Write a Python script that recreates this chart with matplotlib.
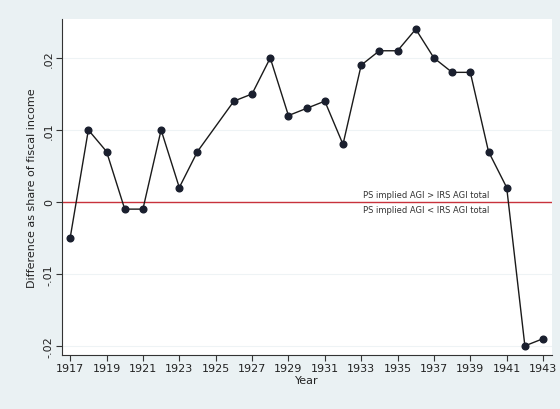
import matplotlib
matplotlib.use("Agg")
import matplotlib.pyplot as plt
import numpy as np

years = [1917, 1918, 1919, 1920, 1921, 1922, 1923, 1924, 1926, 1927, 1928, 1929,
         1930, 1931, 1932, 1933, 1934, 1935, 1936, 1937, 1938, 1939, 1940, 1941,
         1942, 1943]
diff = [-0.005, 0.010, 0.007, -0.001, -0.001, 0.010, 0.002, 0.007, 0.014, 0.015,
        0.020, 0.012, 0.013, 0.014, 0.008, 0.019, 0.021, 0.021, 0.024, 0.020,
        0.018, 0.018, 0.007, 0.002, -0.020, -0.019]
xticks = list(range(1917, 1944, 2))
yticks = [-0.02, -0.01, 0, 0.01, 0.02]
ytick_labels = ["-.02", "-.01", "0", ".01", ".02"]
note_above = "PS implied AGI > IRS AGI total"
note_below = "PS implied AGI < IRS AGI total"

fig = plt.figure(figsize=(5.6, 4.1), dpi=100)
fig.patch.set_facecolor("#eaf1f3")
ax = fig.add_axes([0.111, 0.132, 0.875, 0.819])
ax.set_facecolor("white")

for yv in yticks:
    ax.axhline(yv, color="#eef3f5", lw=0.8, zorder=0)
ax.axhline(0, color="#c8323c", lw=1.0, zorder=1)

ax.plot(years, diff, color="#1a1a1a", lw=1.0, marker="o", ms=4.8,
        markerfacecolor="#1a1f2e", markeredgecolor="#1a1f2e", zorder=3)

ax.text(1936.6, 0.001, note_above, fontsize=6, ha="center", va="center", color="#333333")
ax.text(1936.6, -0.0011, note_below, fontsize=6, ha="center", va="center", color="#333333")

ax.set_xlim(1916.56, 1943.5)
ax.set_ylim(-0.02125, 0.0254)
ax.set_xticks(xticks)
ax.set_xticklabels([str(x) for x in xticks], fontsize=8, color="#222222")
ax.set_yticks(yticks)
ax.set_yticklabels(ytick_labels, fontsize=8, rotation=90, va="center", color="#222222")
ax.tick_params(length=4, width=0.8, color="#333333", pad=2)
ax.set_xlabel("Year", fontsize=8, labelpad=1, color="#222222")
ax.set_ylabel("Difference as share of fiscal income", fontsize=8, labelpad=5, color="#222222")
for s in ["top", "right"]:
    ax.spines[s].set_visible(False)
for s in ["left", "bottom"]:
    ax.spines[s].set_color("#333333")
    ax.spines[s].set_linewidth(0.8)

fig.savefig("out.png", dpi=100, facecolor=fig.get_facecolor())
